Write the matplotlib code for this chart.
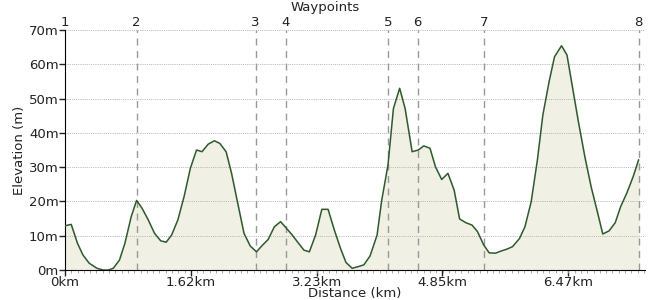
"""Elevation profile with waypoint markers."""

import matplotlib.pyplot as plt
import numpy as np
from matplotlib.ticker import FixedLocator, MultipleLocator

# %% Data
distance_km = [
    0.00, 0.08, 0.16, 0.23, 0.31, 0.41, 0.49, 0.56, 0.62, 0.70,
    0.77, 0.85, 0.92, 0.99, 1.07, 1.15, 1.23, 1.30, 1.37, 1.45,
    1.53, 1.61, 1.69, 1.76, 1.84, 1.92, 1.99, 2.07, 2.14, 2.22,
    2.30, 2.38, 2.46, 2.54, 2.61, 2.69, 2.77, 2.84, 2.92, 2.99,
    3.07, 3.14, 3.22, 3.30, 3.38, 3.46, 3.54, 3.61, 3.69, 3.77,
    3.84, 3.92, 4.01, 4.07, 4.15, 4.22, 4.30, 4.37, 4.46, 4.54,
    4.61, 4.69, 4.76, 4.84, 4.92, 5.00, 5.07, 5.15, 5.23, 5.30,
    5.38, 5.45, 5.53, 5.60, 5.68, 5.75, 5.84, 5.91, 5.99, 6.07,
    6.14, 6.22, 6.29, 6.38, 6.45, 6.52, 6.60, 6.68, 6.76, 6.84,
    6.91, 6.99, 7.07, 7.14, 7.22, 7.30, 7.37,
]
elevation_m = [
    12.9, 13.3, 7.8, 4.4, 2.0, 0.5, 0.0, 0.0, 0.5, 2.9,
    7.8, 15.5, 20.3, 18.0, 14.6, 10.7, 8.5, 8.1, 10.2, 14.6,
    21.4, 29.6, 35.0, 34.5, 36.7, 37.7, 36.9, 34.5, 28.2, 19.4,
    10.7, 7.0, 5.3, 7.3, 8.9, 12.6, 14.1, 12.3, 10.2, 8.1,
    5.8, 5.3, 10.2, 17.7, 17.7, 11.7, 6.3, 2.2, 0.5, 1.0,
    1.5, 4.1, 10.2, 20.4, 30.6, 47.1, 53.0, 47.1, 34.5, 35.0,
    36.2, 35.5, 30.1, 26.4, 28.2, 23.3, 14.9, 13.8, 13.1, 11.2,
    7.3, 5.0, 4.9, 5.5, 6.1, 6.8, 9.2, 12.6, 19.9, 32.1,
    45.2, 54.9, 62.2, 65.4, 62.7, 53.4, 42.8, 33.0, 24.3, 17.0,
    10.5, 11.4, 13.8, 18.5, 22.5, 27.2, 32.1,
]
waypoint_km = [0.0, 0.92, 2.45, 2.84, 4.15, 4.53, 5.38, 7.37]
waypoint_labels = ["1", "2", "3", "4", "5", "6", "7", "8"]
tick_km = [0.0, 1.617, 3.233, 4.850, 6.466]
tick_labels = ["0km", "1.62km", "3.23km", "4.85km", "6.47km"]
elev_ticks = [0, 10, 20, 30, 40, 50, 60, 70]

fill_color = "#f0f0e4"
line_color = "#2f5a2f"
grid_color = "#b4b4b4"
text_color = "#222222"

plt.rcParams["font.family"] = "DejaVu Sans"
plt.rcParams["font.size"] = 9.5

fig = plt.figure(figsize=(6.5, 3.0), dpi=100)
ax = fig.add_axes([0.1, 0.1, 0.892, 0.8])

ax.fill_between(distance_km, elevation_m, 0, color=fill_color, zorder=1)
ax.plot(distance_km, elevation_m, color=line_color, linewidth=1.1, zorder=3)

# Horizontal dotted grid
for e in elev_ticks[1:]:
    ax.axhline(e, color=grid_color, linestyle=(0, (1, 1.2)), linewidth=0.7, zorder=2)

# Waypoint markers
for km, label in zip(waypoint_km, waypoint_labels):
    if km > 0:
        ax.axvline(km, color="#999999", linestyle=(0, (5, 4)), linewidth=1.0, zorder=2)
    ax.text(km, 70.4, label, ha="center", va="bottom", color=text_color)

ax.set_xlim(0, 7.45)
ax.set_ylim(0, 70)

ax.xaxis.set_major_locator(FixedLocator(tick_km))
ax.set_xticklabels(tick_labels)
ax.xaxis.set_minor_locator(MultipleLocator(1.617 / 20))
ax.set_yticks(elev_ticks)
ax.set_yticklabels([f"{e}m" for e in elev_ticks])

ax.tick_params(axis="both", which="major", length=4, width=1, pad=0.5, colors=text_color)
ax.tick_params(axis="x", which="major", pad=0)
ax.tick_params(axis="x", which="minor", length=2, width=0.6, color="#999999")

ax.spines["top"].set_visible(False)
ax.spines["right"].set_visible(False)

ax.set_xlabel("Distance (km)", labelpad=-1.2, color=text_color)
ax.set_ylabel("Elevation (m)", labelpad=2, color=text_color)
fig.text(0.5, 0.995, "Waypoints", ha="center", va="top", color=text_color)

fig.savefig("out.png", dpi=100)
